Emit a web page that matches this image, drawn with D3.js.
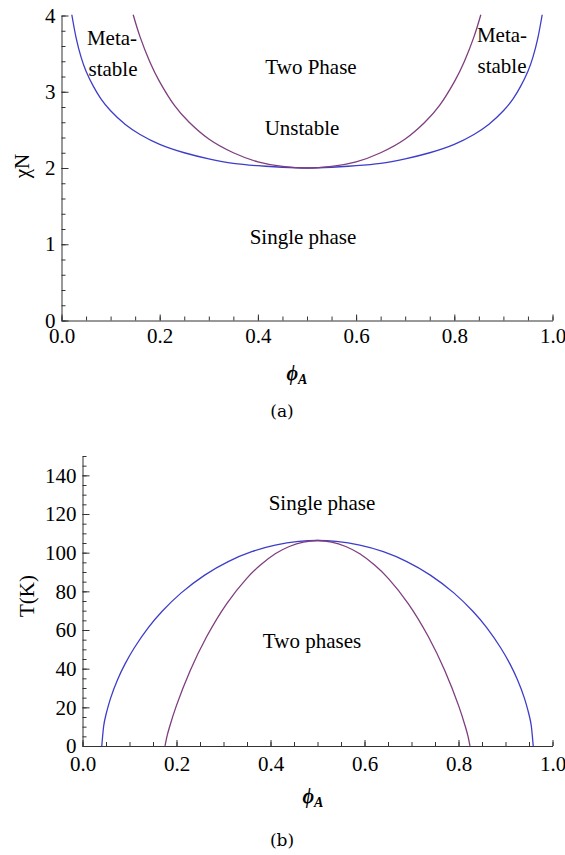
<!DOCTYPE html>
<html lang="en">
<head>
<meta charset="utf-8">
<title>Phase diagrams</title>
<script src="https://d3js.org/d3.v7.min.js"></script>
<style>
  body { margin: 0; background: #fff; }
  text { font-family: "Liberation Serif", "Times New Roman", serif; fill: #000; }
  .axis path, .axis line { stroke: #333; stroke-width: 1; }
</style>
</head>
<body>
<script>
// panel (a): chi*N vs phi_A
var phiBinA = [0.021,0.03,0.04,0.05,0.065,0.08,0.10,0.13,0.16,0.20,0.25,0.30,0.35,0.40,0.45,0.50,
               0.55,0.60,0.65,0.70,0.75,0.80,0.84,0.87,0.90,0.92,0.935,0.95,0.96,0.97,0.979];
var chiBin  = [4.01,3.70,3.45,3.27,3.07,2.91,2.75,2.57,2.44,2.31,2.20,2.12,2.06,2.03,2.01,2.00,
               2.01,2.03,2.06,2.12,2.20,2.31,2.44,2.57,2.75,2.91,3.07,3.27,3.45,3.70,4.01];
var phiSpinA = [0.146,0.16,0.18,0.20,0.23,0.26,0.30,0.35,0.40,0.45,0.50,
                0.55,0.60,0.65,0.70,0.74,0.77,0.80,0.82,0.84,0.854];
var chiSpin  = [4.01,3.72,3.39,3.13,2.82,2.60,2.38,2.20,2.08,2.02,2.00,
                2.02,2.08,2.20,2.38,2.60,2.82,3.13,3.39,3.72,4.01];

// panel (b): T(K) vs phi_A
var phiBinB = [0.041,0.045,0.05,0.06,0.075,0.09,0.11,0.14,0.17,0.21,0.26,0.31,0.36,0.41,0.46,0.50,
               0.54,0.59,0.64,0.69,0.74,0.79,0.83,0.86,0.89,0.91,0.925,0.94,0.95,0.955,0.959];
var tBin    = [0,10.2,16.3,24.9,34.5,42.2,50.7,61.2,69.8,79.2,88.4,95.4,100.5,103.9,105.8,106.3,
               105.8,103.9,100.5,95.4,88.4,79.2,69.8,61.2,50.7,42.2,34.5,24.9,16.3,10.2,0];
var phiSpinB = [0.1755,0.18,0.185,0.200,0.229,0.264,0.307,0.349,0.378,0.41,0.44,0.47,0.50,
                0.53,0.56,0.59,0.622,0.651,0.693,0.736,0.771,0.80,0.815,0.82,0.8245];
var tSpin    = [0,5.2,9.7,21.0,38.9,56.5,73.7,86.6,93.5,99.4,103.2,105.5,106.3,
                105.5,103.2,99.4,93.5,86.6,73.7,56.5,38.9,21.0,9.7,5.2,0];

var xTicks = [0, 0.2, 0.4, 0.6, 0.8, 1.0];
var yTicksA = [0, 1, 2, 3, 4];
var yTicksB = [0, 20, 40, 60, 80, 100, 120, 140];

var blue = "#3d3dca", purple = "#7e3e7e";

var svg = d3.select("body").append("svg")
    .attr("width", 565)
    .attr("height", 855);

function pts(xs, ys) {
  return xs.map(function(x, i) { return [x, ys[i]]; });
}

function panel(opt) {
  var x = d3.scaleLinear().domain([0, 1]).range(opt.xr);
  var y = d3.scaleLinear().domain(opt.yd).range(opt.yr);
  var g = svg.append("g");

  // minor ticks first
  g.append("g").attr("class", "axis")
    .attr("transform", "translate(0," + opt.yr[0] + ")")
    .call(d3.axisBottom(x).tickValues(d3.range(0, 1.001, 0.05)).tickSize(-4).tickFormat(""))
    .select(".domain").remove();
  g.append("g").attr("class", "axis")
    .attr("transform", "translate(" + opt.xr[0] + ",0)")
    .call(d3.axisLeft(y).tickValues(d3.range(opt.yd[0], opt.yd[1] + 0.001, opt.yMinor)).tickSize(-4).tickFormat(""))
    .select(".domain").remove();

  g.append("g").attr("class", "axis")
    .attr("transform", "translate(0," + opt.yr[0] + ")")
    .call(d3.axisBottom(x).tickValues(xTicks).tickSize(-6).tickSizeOuter(0)
      .tickPadding(opt.xPad).tickFormat(d3.format(".1f")));
  g.append("g").attr("class", "axis")
    .attr("transform", "translate(" + opt.xr[0] + ",0)")
    .call(d3.axisLeft(y).tickValues(opt.yTicks).tickSize(-7).tickSizeOuter(0)
      .tickPadding(6).tickFormat(d3.format("d")));
  g.selectAll(".axis text")
    .style("font-family", "'Liberation Serif', serif")
    .style("font-size", "21px")
    .attr("fill", "#000");

  var line = d3.line()
    .x(function(d) { return x(d[0]); })
    .y(function(d) { return y(d[1]); })
    .curve(d3.curveNatural);

  g.append("path").datum(pts(opt.binX, opt.binY))
    .attr("d", line).attr("fill", "none").attr("stroke", blue).attr("stroke-width", 1.3);
  g.append("path").datum(pts(opt.spinX, opt.spinY))
    .attr("d", line).attr("fill", "none").attr("stroke", purple).attr("stroke-width", 1.3);

  opt.labels.forEach(function(l) {
    g.append("text").attr("x", l[0]).attr("y", l[1])
      .attr("text-anchor", "middle").style("font-size", "21px").text(l[2]);
  });

  // x label phi_A
  var xl = g.append("text").attr("x", opt.xLab[0]).attr("y", opt.xLab[1])
    .attr("text-anchor", "middle")
    .style("font-style", "italic").style("font-weight", "bold");
  xl.append("tspan").style("font-size", "20px").text("\u03d5");
  xl.append("tspan").attr("dy", 4).style("font-size", "14px").text("A");

  return g;
}

var ga = panel({
  xr: [61.5, 552.5], yr: [320.5, 15.5], yd: [0, 4], yMinor: 0.2, yTicks: yTicksA, xPad: 8,
  binX: phiBinA, binY: chiBin, spinX: phiSpinA, spinY: chiSpin,
  labels: [[112, 45, "Meta-"], [113, 76, "stable"], [502, 42, "Meta-"], [502, 73, "stable"],
           [311, 74, "Two Phase"], [302, 135, "Unstable"], [303, 244, "Single phase"]],
  xLab: [297, 380]
});
ga.append("text")
  .attr("transform", "translate(29,166) rotate(-90)")
  .attr("text-anchor", "middle").style("font-size", "21px").text("\u03c7N");

var gb = panel({
  xr: [82.5, 552.5], yr: [746, 456], yd: [0, 150], yMinor: 5, yTicks: yTicksB, xPad: 10,
  binX: phiBinB, binY: tBin, spinX: phiSpinB, spinY: tSpin,
  labels: [[322, 510, "Single phase"], [312, 648, "Two phases"]],
  xLab: [313, 803]
});
gb.append("text")
  .attr("transform", "translate(34,596) rotate(-90)")
  .attr("text-anchor", "middle").style("font-size", "21px").text("T(K)");

// captions
svg.append("text").attr("x", 282).attr("y", 417).attr("text-anchor", "middle")
  .style("font-family", "'DejaVu Serif', serif").style("font-size", "17px").text("(a)");
svg.append("text").attr("x", 282).attr("y", 846).attr("text-anchor", "middle")
  .style("font-family", "'DejaVu Serif', serif").style("font-size", "17px").text("(b)");
</script>
</body>
</html>
